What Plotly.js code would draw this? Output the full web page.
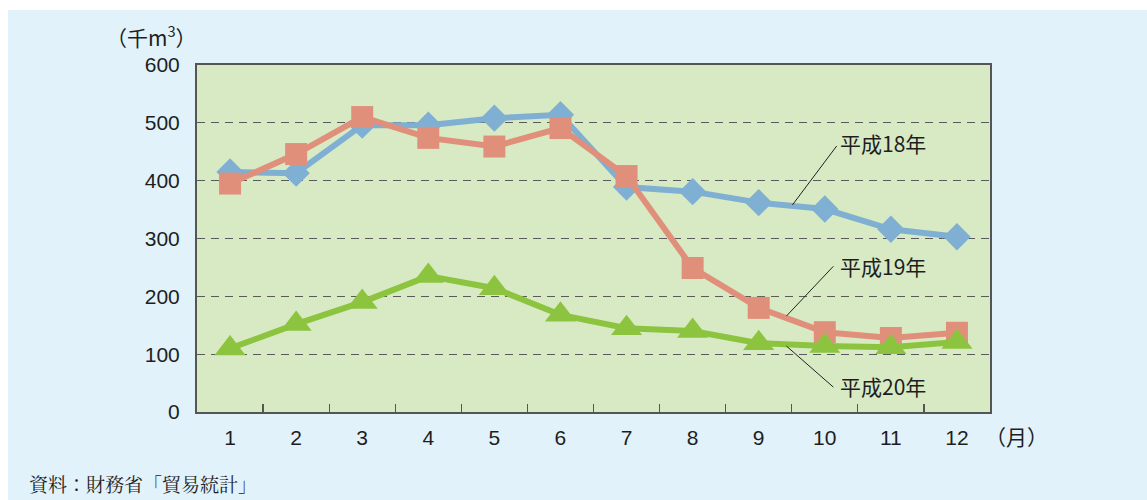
<!DOCTYPE html>
<html>
<head>
<meta charset="utf-8">
<script src="https://cdn.plot.ly/plotly-3.0.1.min.js"></script>
<style>
html, body { margin: 0; padding: 0; background: #ffffff; }
#chart { position: absolute; left: 8px; top: 10px; width: 1139px; height: 490px; }
</style>
</head>
<body>
<div id="chart"></div>
<script>
const months = ['1','2','3','4','5','6','7','8','9','10','11','12'];
const seriesNames = ['平成18年', '平成19年', '平成20年'];
const h18 = [415, 413, 496, 496, 508, 514, 389, 381, 362, 351, 316, 303];
const h19 = [395, 446, 510, 474, 459, 491, 408, 249, 180, 138, 128, 137];
const h20 = [110, 152, 190, 235, 214, 168, 145, 140, 119, 114, 112, 121];
const yTicks = [0, 100, 200, 300, 400, 500, 600];

const fontMain = 'Liberation Sans, Noto Sans CJK JP, sans-serif';
const fontJP = 'Noto Sans CJK JP, sans-serif';
const txt = '#1e1e1e';

const traces = [
  {x: months, y: h18, name: seriesNames[0], mode: 'lines+markers',
   line: {color: '#7fafd2', width: 6},
   marker: {symbol: 'diamond', size: 21, color: '#7fafd2'}},
  {x: months, y: h19, name: seriesNames[1], mode: 'lines+markers',
   line: {color: '#e0907a', width: 6},
   marker: {symbol: 'square', size: 22, color: '#e0907a'}},
  {x: months, y: h20, name: seriesNames[2], mode: 'lines+markers',
   line: {color: '#8cc43f', width: 6},
   marker: {symbol: 'triangle-up', size: 27, color: '#8cc43f'}}
];

const layout = {
  width: 1139, height: 490,
  margin: {l: 189, r: 157, t: 55, b: 88},
  paper_bgcolor: '#e1f2fb',
  plot_bgcolor: '#d8eac3',
  showlegend: false,
  font: {family: fontMain, size: 21, color: txt},
  xaxis: {
    type: 'category',
    range: [-0.5, 11.5],
    tickson: 'boundaries',
    ticks: 'inside', ticklen: 8, tickwidth: 1.2, tickcolor: '#555',
    ticklabelstandoff: 6,
    showgrid: false, zeroline: false,
    showline: true, mirror: true, linecolor: '#555', linewidth: 2,
    tickfont: {size: 21, color: txt},
    fixedrange: true
  },
  yaxis: {
    range: [0, 600],
    tickvals: yTicks,
    ticks: 'outside', ticklen: 11, tickcolor: 'rgba(0,0,0,0)',
    showgrid: true, gridcolor: '#5a5a5a', gridwidth: 1.3, griddash: '8px,6px',
    zeroline: false,
    showline: true, mirror: true, linecolor: '#555', linewidth: 2,
    tickfont: {size: 21, color: txt},
    fixedrange: true
  },
  shapes: [
    {type: 'line', xref: 'x', yref: 'y', x0: 8.51, y0: 358, x1: 9.18, y1: 460, line: {color: '#222', width: 1}},
    {type: 'line', xref: 'x', yref: 'y', x0: 8.42, y0: 166, x1: 9.13, y1: 252, line: {color: '#222', width: 1}},
    {type: 'line', xref: 'x', yref: 'y', x0: 8.42, y0: 114, x1: 9.13, y1: 43, line: {color: '#222', width: 1}}
  ],
  annotations: [
    {xref: 'x', yref: 'y', x: 9.2, y: 465, text: seriesNames[0], showarrow: false, xanchor: 'left', yanchor: 'middle', font: {family: fontJP, size: 21, color: txt}},
    {xref: 'x', yref: 'y', x: 9.2, y: 252, text: seriesNames[1], showarrow: false, xanchor: 'left', yanchor: 'middle', font: {family: fontJP, size: 21, color: txt}},
    {xref: 'x', yref: 'y', x: 9.2, y: 45, text: seriesNames[2], showarrow: false, xanchor: 'left', yanchor: 'middle', font: {family: fontJP, size: 21, color: txt}},
    {xref: 'paper', yref: 'paper', x: -0.058, y: 1.085, text: '（千m<sup>3</sup>）', showarrow: false, xanchor: 'center', yanchor: 'middle', font: {family: fontJP, size: 21, color: txt}},
    {xref: 'paper', yref: 'paper', x: 1.033, y: -0.068, text: '（月）', showarrow: false, xanchor: 'center', yanchor: 'middle', font: {family: fontJP, size: 21, color: txt}},
    {xref: 'paper', yref: 'paper', x: -0.214, y: -0.205, text: '資料：財務省「貿易統計」', showarrow: false, xanchor: 'left', yanchor: 'middle', font: {family: 'Noto Serif CJK JP, Noto Sans CJK JP, serif', size: 19, color: txt}}
  ]
};

Plotly.newPlot('chart', traces, layout, {displayModeBar: false, staticPlot: true});
</script>
</body>
</html>
